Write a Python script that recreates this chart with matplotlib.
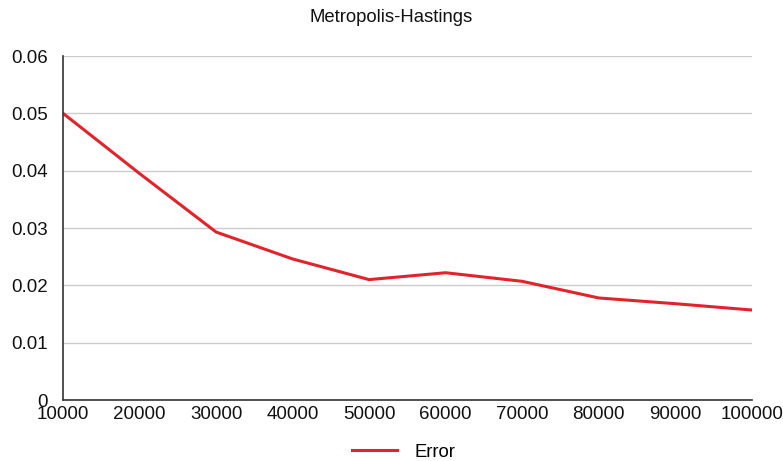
import matplotlib
matplotlib.use("Agg")
import matplotlib.pyplot as plt

plt.rcParams['font.family'] = ['Liberation Sans', 'DejaVu Sans']

# samples vs. estimation error
samples = [10000, 20000, 30000, 40000, 50000, 60000, 70000, 80000, 90000, 100000]
error = [0.0500, 0.0395, 0.0293, 0.0246, 0.0210, 0.0222, 0.0207, 0.0178, 0.0168, 0.0157]
yticks = [0, 0.01, 0.02, 0.03, 0.04, 0.05, 0.06]
ytick_labels = ['0', '0.01', '0.02', '0.03', '0.04', '0.05', '0.06']

fig = plt.figure(figsize=(7.83, 4.61), dpi=100)
ax = fig.add_axes([0.0805, 0.1323, 0.8795, 0.7462])

ax.plot(samples, error, color='#e0242b', linewidth=2.2, label='Error')

ax.set_xlim(samples[0], samples[-1])
ax.set_ylim(0, 0.06)
ax.set_xticks(samples)
ax.set_xticklabels([str(s) for s in samples])
ax.set_yticks(yticks)
ax.set_yticklabels(ytick_labels)
ax.tick_params(axis='both', length=0, labelsize=13.5, colors='#111111')
ax.tick_params(axis='x', pad=4)
ax.tick_params(axis='y', pad=11)

ax.grid(axis='y', color='#cccccc', linewidth=1)
ax.set_axisbelow(True)
for side in ['top', 'right']:
    ax.spines[side].set_visible(False)
ax.spines['left'].set_color('#333333')
ax.spines['bottom'].set_color('#333333')
ax.spines['left'].set_linewidth(1.2)
ax.spines['bottom'].set_linewidth(1.2)

fig.text(0.5, 1 - 18 / 461, 'Metropolis-Hastings', fontsize=13.3,
         ha='center', va='center', color='#111111')

fig.legend(loc='center', bbox_to_anchor=(0.516, 1 - 452 / 461), frameon=False,
           fontsize=13.3, handlelength=2.4, handletextpad=1.0)

plt.savefig('out.png', dpi=100)
